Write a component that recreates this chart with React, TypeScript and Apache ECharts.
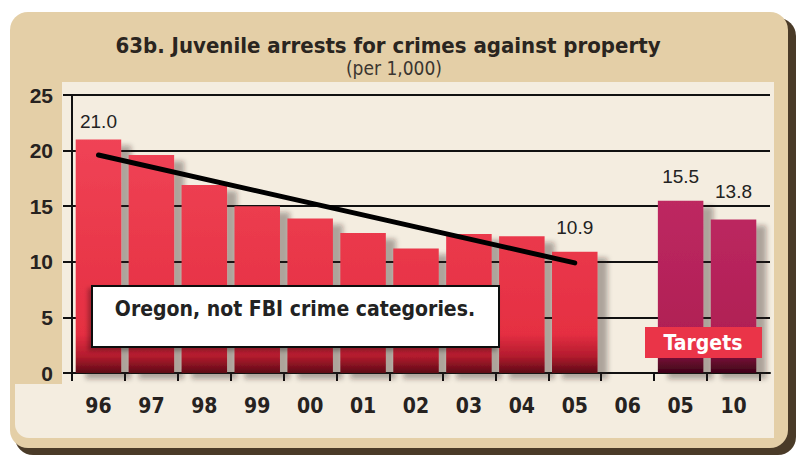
import React, { useEffect, useRef } from "react";
import * as echarts from "echarts";

const titleText = "63b. Juvenile arrests for crimes against property";
const subtitleText = "(per 1,000)";
const categories = ["96", "97", "98", "99", "00", "01", "02", "03", "04", "05", "06", "05", "10"];
const actualValues: (number | null)[] = [21.0, 19.6, 16.9, 15.0, 13.9, 12.6, 11.2, 12.5, 12.3, 10.9, null, null, null];
const targetValues: (number | null)[] = [null, null, null, null, null, null, null, null, null, null, null, 15.5, 13.8];
const trendValues: (number | null)[] = [19.6, null, null, null, null, null, null, null, null, 9.9, null, null, null];
const labeledIndices = [0, 9, 11, 12];
const yMin = 0;
const yMax = 25;
const yInterval = 5;
const annotationText = "Oregon, not FBI crime categories.";
const targetsText = "Targets";

const NARROW = "'Liberation Sans Narrow', 'DejaVu Sans Condensed', sans-serif";
const SANS = "'Liberation Sans', Arial, sans-serif";

export default function App() {
  const ref = useRef<HTMLDivElement>(null);
  useEffect(() => {
    if (!ref.current) return;
    const chart = echarts.init(ref.current, null, { renderer: "svg" });
    const labelDistance = (i: number) => (i === 0 ? 8 : i === 12 ? 19 : 15);
    const mkData = (vals: (number | null)[]) =>
      vals.map((v, i) => ({
        value: v,
        label: { show: v !== null && labeledIndices.includes(i), distance: labelDistance(i) },
      }));
    const redGrad = {
      type: "linear", x: 0, y: 95, x2: 0, y2: 373, global: true,
      colorStops: [
        { offset: 0, color: "#f2485a" },
        { offset: 0.86, color: "#e52f42" },
        { offset: 0.94, color: "#b31b2e" },
        { offset: 1, color: "#5e0a16" },
      ],
    };
    const magGrad = {
      type: "linear", x: 0, y: 95, x2: 0, y2: 373, global: true,
      colorStops: [
        { offset: 0, color: "#c8306a" },
        { offset: 0.86, color: "#b01f55" },
        { offset: 0.94, color: "#7a0f38" },
        { offset: 1, color: "#3e0418" },
      ],
    };
    const labelCfg = {
      position: "top",
      color: "#222",
      fontSize: 19,
      fontFamily: SANS,
      formatter: (p: any) => Number(p.value).toFixed(1),
    };
    chart.setOption({
      animation: false,
      backgroundColor: "#ffffff",
      grid: [
        { left: 72, right: 31, top: 95, bottom: 85 },
        { left: 72, right: 41, top: 95, bottom: 85 },
      ],
      xAxis: [
        {
          gridIndex: 0, type: "value", min: 0, max: 1,
          axisLine: { show: true, lineStyle: { color: "#111", width: 2 } },
          axisTick: { show: false }, axisLabel: { show: false }, splitLine: { show: false },
        },
        {
          gridIndex: 1, type: "category", data: categories, boundaryGap: true,
          axisLine: { show: true, lineStyle: { color: "#111", width: 2 } },
          axisTick: { show: true, inside: false, length: 8, lineStyle: { color: "#111", width: 2 } },
          axisLabel: { margin: 22, color: "#262220", fontSize: 21, fontWeight: "bold", fontFamily: NARROW },
          splitLine: { show: false },
        },
      ],
      yAxis: [
        {
          gridIndex: 0, type: "value", min: yMin, max: yMax, interval: yInterval,
          axisLine: { show: true, lineStyle: { color: "#111", width: 2 } },
          axisTick: { show: true, inside: false, length: 9, lineStyle: { color: "#111", width: 2 } },
          axisLabel: { margin: 19, color: "#262220", fontSize: 21, fontWeight: "bold", fontFamily: SANS },
          splitLine: { show: true, lineStyle: { color: "#111", width: 2 } },
        },
        {
          gridIndex: 1, type: "value", min: yMin, max: yMax, interval: yInterval, show: false,
          splitLine: { show: false },
        },
      ],
      series: [
        {
          type: "bar", xAxisIndex: 1, yAxisIndex: 1, data: mkData(actualValues),
          barWidth: "86%", barGap: "-100%",
          itemStyle: {
            color: redGrad,
            shadowColor: "rgba(40,30,20,0.35)", shadowBlur: 5, shadowOffsetX: 10, shadowOffsetY: 6,
          },
          label: labelCfg,
          z: 3,
        },
        {
          type: "bar", xAxisIndex: 1, yAxisIndex: 1, data: mkData(targetValues),
          barWidth: "86%", barGap: "-100%",
          itemStyle: {
            color: magGrad,
            shadowColor: "rgba(40,30,20,0.35)", shadowBlur: 5, shadowOffsetX: 10, shadowOffsetY: 6,
          },
          label: labelCfg,
          z: 3,
        },
        {
          type: "line", xAxisIndex: 1, yAxisIndex: 1, data: trendValues, connectNulls: true,
          symbol: "none", lineStyle: { color: "#000", width: 5, cap: "round" }, z: 5,
        },
      ],
      graphic: [
        {
          type: "rect", z: -20, silent: true,
          shape: { x: 15, y: 18, width: 781, height: 437, r: 18 },
          style: { fill: "#4a3b28" },
        },
        {
          type: "rect", z: -19, silent: true,
          shape: { x: 10, y: 12, width: 778, height: 436, r: 18 },
          style: { fill: "#e4cfa7" },
        },
        {
          type: "rect", z: -18, silent: true,
          shape: { x: 62, y: 82, width: 712, height: 356 },
          style: { fill: "#f4ede0" },
        },
        {
          type: "rect", z: -18, silent: true,
          shape: { x: 15, y: 384, width: 60, height: 54, r: [0, 0, 0, 14] },
          style: { fill: "#f4ede0" },
        },
        {
          type: "text", z: 10, silent: true,
          style: {
            text: titleText, x: 388, y: 45, fill: "#2a2520",
            font: `bold 22px ${NARROW}`, align: "center", verticalAlign: "middle",
            textAlign: "center", textVerticalAlign: "middle",
          },
        },
        {
          type: "text", z: 10, silent: true,
          style: {
            text: subtitleText, x: 394, y: 68, fill: "#3a3530",
            font: `19px ${NARROW}`, align: "center", verticalAlign: "middle",
            textAlign: "center", textVerticalAlign: "middle",
          },
        },
        {
          type: "rect", z: 20, silent: true,
          shape: { x: 92, y: 286, width: 407, height: 61 },
          style: { fill: "#ffffff", stroke: "#111", lineWidth: 2, shadowColor: "rgba(0,0,0,0.3)", shadowBlur: 4, shadowOffsetX: -3, shadowOffsetY: 3 },
        },
        {
          type: "text", z: 21, silent: true,
          style: {
            text: annotationText, x: 295, y: 309, fill: "#222",
            font: `bold 21px ${NARROW}`, align: "center", verticalAlign: "middle",
            textAlign: "center", textVerticalAlign: "middle",
          },
        },
        {
          type: "rect", z: 20, silent: true,
          shape: { x: 645, y: 327, width: 117, height: 31 },
          style: { fill: "#ea3448" },
        },
        {
          type: "text", z: 21, silent: true,
          style: {
            text: targetsText, x: 703, y: 343, fill: "#ffffff",
            font: `bold 21px ${NARROW}`, align: "center", verticalAlign: "middle",
            textAlign: "center", textVerticalAlign: "middle",
          },
        },
      ],
    });
    return () => chart.dispose();
  }, []);
  return (
    <div
      ref={ref}
      style={{ position: "absolute", left: 0, top: 0, width: 801, height: 458 }}
    />
  );
}
